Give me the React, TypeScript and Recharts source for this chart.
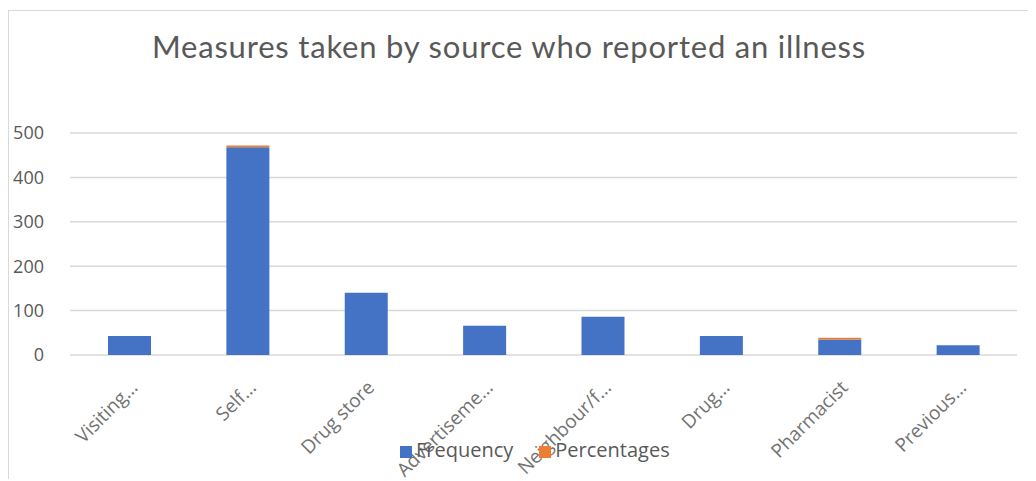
import {Bar, BarChart, CartesianGrid, Legend, XAxis, YAxis} from "recharts";

const categories = [
  "Visiting...",
  "Self...",
  "Drug store",
  "Advertiseme...",
  "Neighbour/f...",
  "Drug...",
  "Pharmacist",
  "Previous...",
];
const frequency = [43, 468, 140, 66, 86, 43, 35, 22];
const percentages = [0, 4, 0, 0, 0, 0, 4, 0];
const yTicks = [0, 100, 200, 300, 400, 500];

const data = categories.map((name, i) => ({
  name,
  Frequency: frequency[i],
  Percentages: percentages[i],
}));

const textColor = "#595959";
const font = "'Open Sans', sans-serif";

function AngledTick({x, y, payload}: any) {
  return (
    <g transform={`translate(${x + 5},${y + 21})`}>
      <text
        textAnchor="end"
        transform="rotate(-45)"
        dy="0.35em"
        fill="#737373"
        fontSize={19}
        fontFamily={font}
      >
        {payload.value}
      </text>
    </g>
  );
}

export default function App() {
  return (
    <div
      style={{
        position: "relative",
        top: 2,
        width: 1028,
        height: 471,
        borderTop: "1px solid #d9d9d9",
        borderLeft: "1px solid #d9d9d9",
        boxSizing: "border-box",
        background: "#fff",
      }}
    >
      <div
        style={{
          position: "absolute",
          left: 0,
          top: 16,
          width: 1000,
          textAlign: "center",
          fontFamily: "Lato, sans-serif",
          fontSize: 31,
          color: textColor,
          letterSpacing: 0.8,
        }}
      >
        Measures taken by source who reported an illness
      </div>
      <BarChart
        width={1027}
        height={470}
        data={data}
        margin={{top: 122, right: 19, bottom: 18, left: 9}}
      >
        <CartesianGrid vertical={false} stroke="#d9d9d9" strokeWidth={1.5} />
        <XAxis
          dataKey="name"
          axisLine={false}
          tickLine={false}
          interval={0}
          height={81}
          tick={<AngledTick />}
        />
        <YAxis
          domain={[0, 500]}
          ticks={yTicks}
          width={52}
          axisLine={false}
          tickLine={false}
          tickSize={0}
          tickMargin={26}
          tick={{fill: textColor, fontSize: 18, fontFamily: font}}
        />
        <Legend
          align="left"
          iconType="square"
          iconSize={12}
          wrapperStyle={{fontFamily: font, fontSize: 20, left: 391, width: 320}}
          formatter={(value) => (
            <span style={{color: textColor, paddingRight: value === "Frequency" ? 16 : 0}}>{value}</span>
          )}
        />
        <Bar dataKey="Frequency" stackId="a" fill="#4472C4" barSize={43} isAnimationActive={false} />
        <Bar dataKey="Percentages" stackId="a" fill="#ED7D31" barSize={43} isAnimationActive={false} />
      </BarChart>
    </div>
  );
}
